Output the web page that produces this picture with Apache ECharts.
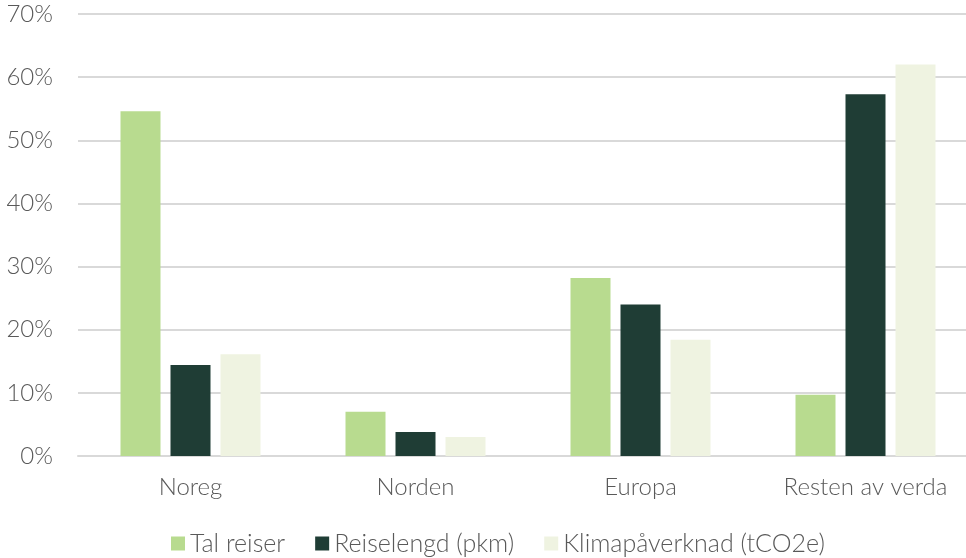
<!DOCTYPE html>
<html><head><meta charset="utf-8">
<script src="https://cdn.jsdelivr.net/npm/echarts@6/dist/echarts.min.js"></script>
<style>html,body{margin:0;padding:0;background:#fff}#c{width:966px;height:558px}</style>
</head><body><div id="c"></div>
<script>
const categories = ['Noreg', 'Norden', 'Europa', 'Resten av verda'];
const seriesNames = ['Tal reiser', 'Reiselengd (pkm)', 'Klimapåverknad (tCO2e)'];
const talReiser = [54.6, 7.0, 28.2, 9.7];
const reiselengd = [14.4, 3.8, 24.0, 57.3];
const klima = [16.1, 3.0, 18.4, 62.0];
const colors = ['#b8db8f', '#1f3d35', '#eff3e1'];
const font = 'Lato, "Noto Sans", sans-serif';
const chart = echarts.init(document.getElementById('c'));
const data = [talReiser, reiselengd, klima];
chart.setOption({
  animation: false,
  textStyle: { fontFamily: font },
  grid: { left: 78, width: 900, top: 14, bottom: 102, containLabel: false, outerBoundsMode: 'none' },
  legend: {
    bottom: -3, left: 166, itemWidth: 14, itemHeight: 14, itemGap: 30,
    icon: 'rect',
    textStyle: { fontFamily: font, fontSize: 25, fontWeight: 300, color: '#595959' },
    data: seriesNames
  },
  xAxis: {
    type: 'category', data: categories,
    axisLine: { lineStyle: { color: '#d9d9d9', width: 2 } },
    axisTick: { show: false },
    axisLabel: { fontFamily: font, fontSize: 24, fontWeight: 300, color: '#595959', margin: 19 }
  },
  yAxis: {
    type: 'value', min: 0, max: 70, interval: 10,
    axisLabel: { formatter: '{value}%', fontFamily: font, fontSize: 24, fontWeight: 300, color: '#595959', margin: 25 },
    splitLine: { lineStyle: { color: '#d9d9d9', width: 2 } },
    axisLine: { show: false }, axisTick: { show: false }
  },
  series: seriesNames.map((n, i) => ({
    name: n, type: 'bar', data: data[i], barWidth: 40, barGap: '25%',
    itemStyle: { color: colors[i] }
  }))
});
</script></body></html>
